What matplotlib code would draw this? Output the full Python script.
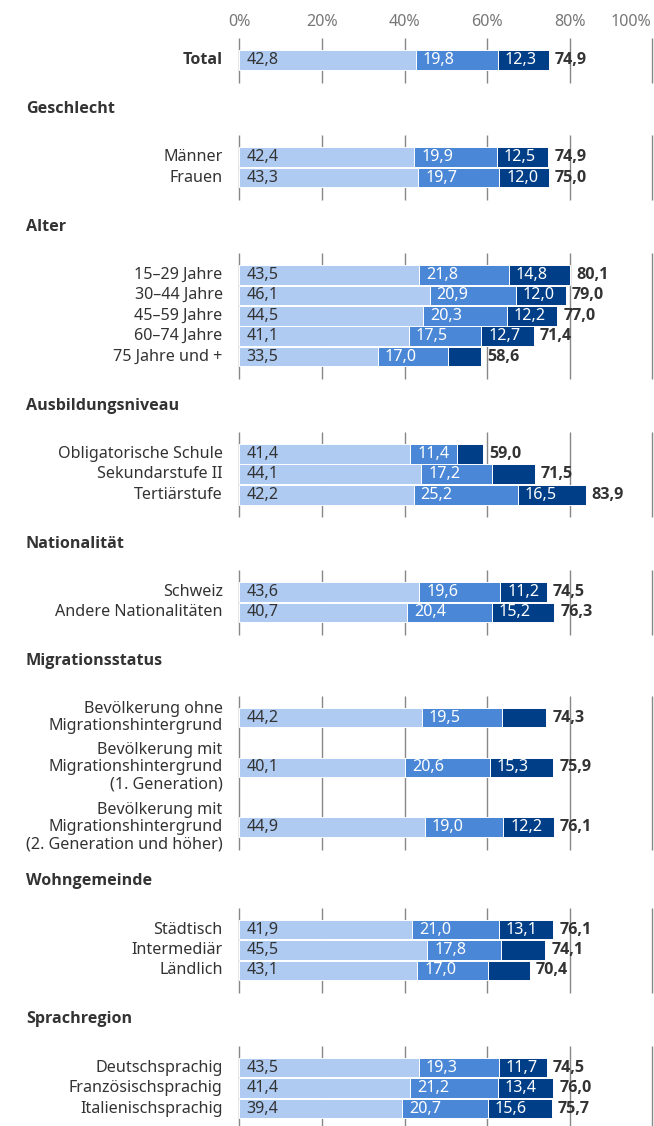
import matplotlib
matplotlib.use("Agg")
import matplotlib.pyplot as plt
from matplotlib import font_manager as fm

def has_bold(fam):
    try:
        f = fm.findfont(fm.FontProperties(family=fam, weight="bold"), fallback_to_default=False)
        return "bold" in f.lower()
    except Exception:
        return False

BOLD_FAMILY = "Noto Sans"
for cand in ["Noto Sans", "Open Sans", "Lato", "Roboto"]:
    if has_bold(cand):
        BOLD_FAMILY = cand
        break
plt.rcParams['font.family'] = ['Noto Sans', 'DejaVu Sans']
BOLD = [BOLD_FAMILY, 'DejaVu Sans']

# ---------------- data ----------------
groups = ["", "Geschlecht", "Alter", "Ausbildungsniveau", "Nationalität",
          "Migrationsstatus", "Wohngemeinde", "Sprachregion"]
group_sizes = [1, 2, 5, 3, 2, 3, 3, 3]
categories = [
    "Total",
    "Männer", "Frauen",
    "15–29 Jahre", "30–44 Jahre", "45–59 Jahre", "60–74 Jahre", "75 Jahre und +",
    "Obligatorische Schule", "Sekundarstufe II", "Tertiärstufe",
    "Schweiz", "Andere Nationalitäten",
    "Bevölkerung ohne\nMigrationshintergrund",
    "Bevölkerung mit\nMigrationshintergrund\n(1. Generation)",
    "Bevölkerung mit\nMigrationshintergrund\n(2. Generation und höher)",
    "Städtisch", "Intermediär", "Ländlich",
    "Deutschsprachig", "Französischsprachig", "Italienischsprachig",
]
light = [42.8, 42.4, 43.3, 43.5, 46.1, 44.5, 41.1, 33.5, 41.4, 44.1, 42.2,
         43.6, 40.7, 44.2, 40.1, 44.9, 41.9, 45.5, 43.1, 43.5, 41.4, 39.4]
medium = [19.8, 19.9, 19.7, 21.8, 20.9, 20.3, 17.5, 17.0, 11.4, 17.2, 25.2,
          19.6, 20.4, 19.5, 20.6, 19.0, 21.0, 17.8, 17.0, 19.3, 21.2, 20.7]
dark = [12.3, 12.5, 12.0, 14.8, 12.0, 12.2, 12.7, 8.1, 6.2, 10.2, 16.5,
        11.2, 15.2, 10.6, 15.3, 12.2, 13.1, 10.8, 10.3, 11.7, 13.4, 15.6]
dark_labeled = [True, True, True, True, True, True, True, False, False, False, True,
                True, True, False, True, True, True, False, False, True, True, True]
totals = [74.9, 74.9, 75.0, 80.1, 79.0, 77.0, 71.4, 58.6, 59.0, 71.5, 83.9,
          74.5, 76.3, 74.3, 75.9, 76.1, 76.1, 74.1, 70.4, 74.5, 76.0, 75.7]
tick_values = [0, 20, 40, 60, 80, 100]
tick_labels = ["0%", "20%", "40%", "60%", "80%", "100%"]

# ---------------- style ----------------
C_LIGHT = "#afcbf2"
C_MED = "#4a87d6"
C_DARK = "#003f88"
C_TEXT = "#333333"
C_TICK = "#777777"
C_GRID = "#878787"
FS = 11.6

W, H = 654, 1126
X0, X100 = 239.3, 652.3
fig = plt.figure(figsize=(W / 100, H / 100), dpi=100)
ax = fig.add_axes([X0 / W, 0, (X100 - X0) / W, 1])
ax.set_xlim(0, 100)
ax.set_ylim(H, 0)
ax.axis("off")

def fmt(v):
    return f"{v:.1f}".replace(".", ",")

# ---------------- layout (pixel rows) ----------------
def nlines(s):
    return s.count("\n") + 1

row_y = []
header_y = []
idx = 0
y = 60.0
for g, size in enumerate(group_sizes):
    labs = categories[idx:idx + size]
    if g == 0:
        y = 60.0
        header_y.append(None)
    else:
        last = categories[idx - 1]
        hy = row_y[-1] + 49 + (nlines(last) - 1) * 2.6
        header_y.append(hy)
        y = hy + 48.2 + (nlines(labs[0]) - 1) * 8
    for k, lab in enumerate(labs):
        if k > 0:
            y = y + 20.45 + (nlines(labs[k - 1]) + nlines(lab) - 2) / 2 * 19.6
        row_y.append(y)
    idx += size

# ---------------- gridlines per group ----------------
idx = 0
for g, size in enumerate(group_sizes):
    top = row_y[idx] - 22
    bot = row_y[idx + size - 1] + 22.5
    ax.vlines(tick_values, top, bot, colors=C_GRID, linewidth=1.0, zorder=1,
              clip_on=False)
    idx += size

# ---------------- bars ----------------
BH = 19.6
left2 = [a for a in light]
left3 = [a + b for a, b in zip(light, medium)]
ax.barh(row_y, light, height=BH, color=C_LIGHT, edgecolor="white", linewidth=0.7, zorder=2)
ax.barh(row_y, medium, left=left2, height=BH, color=C_MED, edgecolor="white", linewidth=0.7, zorder=2)
ax.barh(row_y, dark, left=left3, height=BH, color=C_DARK, edgecolor="white", linewidth=0.7, zorder=2)

for i, yy in enumerate(row_y):
    ax.annotate(fmt(light[i]), (0, yy), xytext=(5, 0), textcoords="offset points",
                ha="left", va="center", fontsize=FS, color=C_TEXT, zorder=3)
    ax.annotate(fmt(medium[i]), (left2[i], yy), xytext=(5, 0), textcoords="offset points",
                ha="left", va="center", fontsize=FS, color="white", zorder=3)
    if dark_labeled[i]:
        ax.annotate(fmt(dark[i]), (left3[i], yy), xytext=(5, 0), textcoords="offset points",
                    ha="left", va="center", fontsize=FS, color="white", zorder=3)
    end = left3[i] + dark[i]
    ax.annotate(fmt(totals[i]), (end, yy), xytext=(4.3, 0), textcoords="offset points",
                ha="left", va="center", fontsize=FS, color=C_TEXT, fontweight="bold",
                family=BOLD, zorder=3)
    ax.annotate(categories[i], (0, yy), xycoords=ax.get_yaxis_transform(),
                xytext=(-12, 0), textcoords="offset points", ha="right", va="center",
                multialignment="right", fontsize=FS, color=C_TEXT, linespacing=1.12,
                fontweight="bold" if i == 0 else "normal",
                family=BOLD if i == 0 else ['Noto Sans', 'DejaVu Sans'],
                annotation_clip=False)

# ---------------- headers ----------------
hx = (25.9 - X0) / (X100 - X0)
for g, hy in zip(groups, header_y):
    if hy is None:
        continue
    ax.text(hx, hy, g, transform=ax.get_yaxis_transform(), ha="left", va="center",
            fontsize=FS, fontweight="bold", family=BOLD, color=C_TEXT, clip_on=False)

# ---------------- tick labels ----------------
for k, (tv, tl) in enumerate(zip(tick_values, tick_labels)):
    last = k == len(tick_values) - 1
    ax.annotate(tl, (tv, 22), xytext=(-1 if last else 0, 0), textcoords="offset points",
                ha="right" if last else "center", va="center", fontsize=FS,
                color=C_TICK, annotation_clip=False)

fig.savefig("out.png", dpi=100)
